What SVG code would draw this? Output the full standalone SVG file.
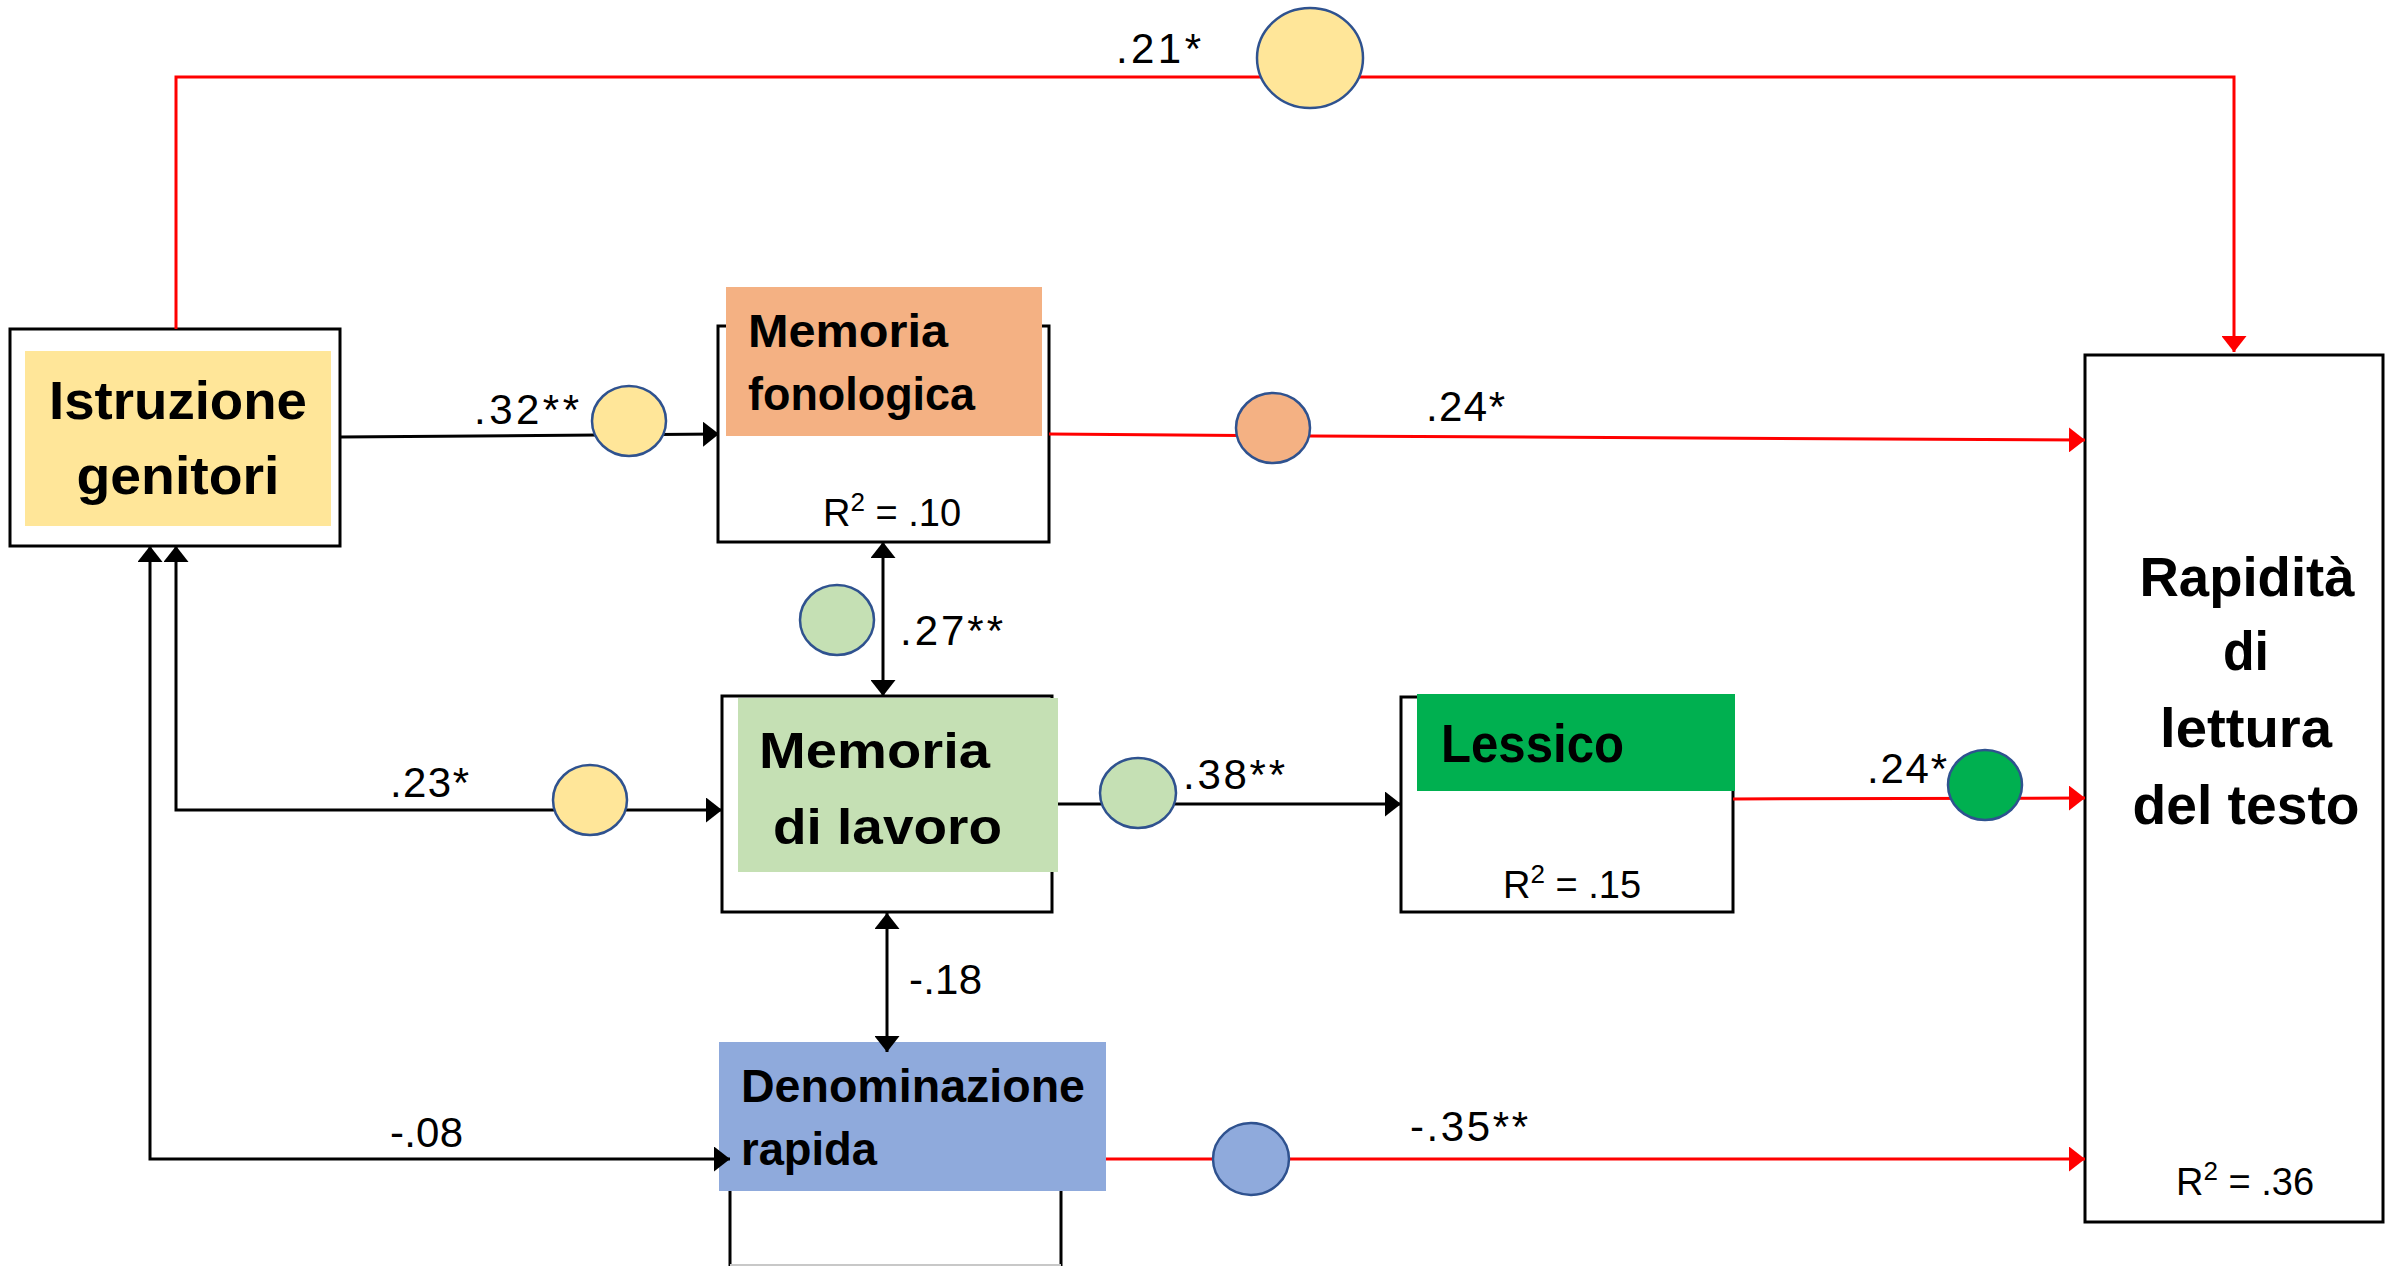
<svg xmlns="http://www.w3.org/2000/svg" width="2399" height="1266" viewBox="0 0 2399 1266">
  <style>
    .box { fill: #ffffff; stroke: #000000; stroke-width: 3; }
    .lbl { font-family: "Liberation Sans", Arial, sans-serif; font-weight: bold; fill: #000000; }
    .coef { font-family: "Liberation Sans", Arial, sans-serif; font-size: 42px; fill: #000000; }
    .r2 { font-family: "Liberation Sans", Arial, sans-serif; font-size: 38px; fill: #000000; }
    .blk { fill: none; stroke: #000000; stroke-width: 3; }
    .red { fill: none; stroke: #ff0000; stroke-width: 3; }
    .dot { stroke: #2f528f; stroke-width: 2.5; }
  </style>
  <defs>
    <marker id="ah-black" viewBox="0 0 16 25" refX="16" refY="12.5" markerWidth="16" markerHeight="25" markerUnits="userSpaceOnUse" orient="auto-start-reverse">
      <path d="M0,0 L16,12.5 L0,25 z" fill="#000000"/>
    </marker>
    <marker id="ah-red" viewBox="0 0 16 25" refX="16" refY="12.5" markerWidth="16" markerHeight="25" markerUnits="userSpaceOnUse" orient="auto">
      <path d="M0,0 L16,12.5 L0,25 z" fill="#ff0000"/>
    </marker>
  </defs>

  <rect width="2399" height="1266" fill="#ffffff"/>

  <!-- Istruzione genitori -->
  <g id="istruzione-genitori">
    <rect class="box" x="10" y="329" width="330" height="217"/>
    <rect x="25" y="351" width="306" height="175" fill="#ffe699"/>
    <text class="lbl" x="178" y="419" font-size="54" text-anchor="middle" textLength="258" lengthAdjust="spacingAndGlyphs">Istruzione</text>
    <text class="lbl" x="178" y="494" font-size="54" text-anchor="middle" textLength="203" lengthAdjust="spacingAndGlyphs">genitori</text>
  </g>

  <!-- Memoria fonologica -->
  <g id="memoria-fonologica">
    <rect class="box" x="718" y="326" width="331" height="216"/>
    <rect x="726" y="287" width="316" height="149" fill="#f4b183"/>
    <text class="lbl" x="748" y="347" font-size="47" textLength="200" lengthAdjust="spacingAndGlyphs">Memoria</text>
    <text class="lbl" x="748" y="410" font-size="47" textLength="227" lengthAdjust="spacingAndGlyphs">fonologica</text>
    <text class="r2" x="823" y="526">R<tspan font-size="26" dy="-15">2</tspan><tspan dy="15"> = .10</tspan></text>
  </g>

  <!-- Memoria di lavoro -->
  <g id="memoria-di-lavoro">
    <rect class="box" x="722" y="696" width="330" height="216"/>
    <rect x="738" y="698" width="320" height="174" fill="#c5e0b4"/>
    <text class="lbl" x="759" y="768" font-size="50" textLength="231" lengthAdjust="spacingAndGlyphs">Memoria</text>
    <text class="lbl" x="773" y="844" font-size="50" textLength="229" lengthAdjust="spacingAndGlyphs">di lavoro</text>
  </g>

  <!-- Lessico -->
  <g id="lessico">
    <rect class="box" x="1401" y="697" width="332" height="215"/>
    <rect x="1417" y="694" width="318" height="97" fill="#00b050"/>
    <text class="lbl" x="1441" y="762" font-size="54" textLength="183" lengthAdjust="spacingAndGlyphs">Lessico</text>
    <text class="r2" x="1503" y="898">R<tspan font-size="26" dy="-15">2</tspan><tspan dy="15"> = .15</tspan></text>
  </g>

  <!-- Denominazione rapida -->
  <g id="denominazione-rapida">
    <path d="M730,1150 V1266 M1061,1150 V1266" fill="none" stroke="#000000" stroke-width="3"/>
    <path d="M730,1265 H1061" fill="none" stroke="#c8c8c8" stroke-width="2"/>
    <rect x="719" y="1042" width="387" height="149" fill="#8faadc"/>
    <text class="lbl" x="741" y="1102" font-size="46" textLength="344" lengthAdjust="spacingAndGlyphs">Denominazione</text>
    <text class="lbl" x="741" y="1165" font-size="46" textLength="136" lengthAdjust="spacingAndGlyphs">rapida</text>
  </g>

  <!-- Rapidita di lettura del testo -->
  <g id="rapidita-lettura">
    <rect class="box" x="2085" y="355" width="298" height="867"/>
    <text class="lbl" x="2247" y="596" font-size="56" text-anchor="middle" textLength="215" lengthAdjust="spacingAndGlyphs">Rapidità</text>
    <text class="lbl" x="2246" y="670" font-size="56" text-anchor="middle" textLength="46" lengthAdjust="spacingAndGlyphs">di</text>
    <text class="lbl" x="2246" y="747" font-size="56" text-anchor="middle" textLength="172" lengthAdjust="spacingAndGlyphs">lettura</text>
    <text class="lbl" x="2246" y="824" font-size="56" text-anchor="middle" textLength="227" lengthAdjust="spacingAndGlyphs">del testo</text>
    <text class="r2" x="2176" y="1195">R<tspan font-size="26" dy="-15">2</tspan><tspan dy="15"> = .36</tspan></text>
  </g>

  <!-- connectors, drawn over the node fills -->
  <g id="connectors">
    <path class="red" d="M176,329 V77 H2234 V352" marker-end="url(#ah-red)"/>
    <path class="blk" d="M340,437 L719,434" marker-end="url(#ah-black)"/>
    <path class="red" d="M1049,434 L1311,436 L2085,440" marker-end="url(#ah-red)"/>
    <path class="blk" d="M883,542 V696" marker-start="url(#ah-black)" marker-end="url(#ah-black)"/>
    <path class="blk" d="M176,546 V810 H722" marker-start="url(#ah-black)" marker-end="url(#ah-black)"/>
    <path class="blk" d="M150,546 V1159 H730" marker-start="url(#ah-black)" marker-end="url(#ah-black)"/>
    <path class="blk" d="M1058,804 H1401" marker-end="url(#ah-black)"/>
    <path class="blk" d="M887,913 V1052" marker-start="url(#ah-black)" marker-end="url(#ah-black)"/>
    <path class="red" d="M1733,799 L2085,798" marker-end="url(#ah-red)"/>
    <path class="red" d="M1106,1159 H2085" stroke-width="4" marker-end="url(#ah-red)"/>

    <!-- path coefficient markers -->
    <ellipse class="dot" cx="1310" cy="58" rx="53" ry="50" fill="#ffe699"/>
    <ellipse class="dot" cx="629" cy="421" rx="37" ry="35" fill="#ffe699"/>
    <ellipse class="dot" cx="1273" cy="428" rx="37" ry="35" fill="#f4b183"/>
    <ellipse class="dot" cx="837" cy="620" rx="37" ry="35" fill="#c5e0b4"/>
    <ellipse class="dot" cx="590" cy="800" rx="37" ry="35" fill="#ffe699"/>
    <ellipse class="dot" cx="1138" cy="793" rx="38" ry="35" fill="#c5e0b4"/>
    <ellipse class="dot" cx="1985" cy="785" rx="37" ry="35" fill="#00b050"/>
    <ellipse class="dot" cx="1251" cy="1159" rx="38" ry="36" fill="#8faadc"/>

    <!-- coefficients -->
    <text class="coef" x="1116" y="63" textLength="85" lengthAdjust="spacing">.21*</text>
    <text class="coef" x="474" y="424" textLength="105" lengthAdjust="spacing">.32**</text>
    <text class="coef" x="1426" y="421" textLength="79" lengthAdjust="spacing">.24*</text>
    <text class="coef" x="900" y="645" textLength="103" lengthAdjust="spacing">.27**</text>
    <text class="coef" x="390" y="797" textLength="79" lengthAdjust="spacing">.23*</text>
    <text class="coef" x="1183" y="789" textLength="102" lengthAdjust="spacing">.38**</text>
    <text class="coef" x="1867" y="783" textLength="80" lengthAdjust="spacing">.24*</text>
    <text class="coef" x="909" y="994" textLength="73" lengthAdjust="spacing">-.18</text>
    <text class="coef" x="390" y="1147" textLength="73" lengthAdjust="spacing">-.08</text>
    <text class="coef" x="1410" y="1141" textLength="118" lengthAdjust="spacing">-.35**</text>
  </g>
</svg>
